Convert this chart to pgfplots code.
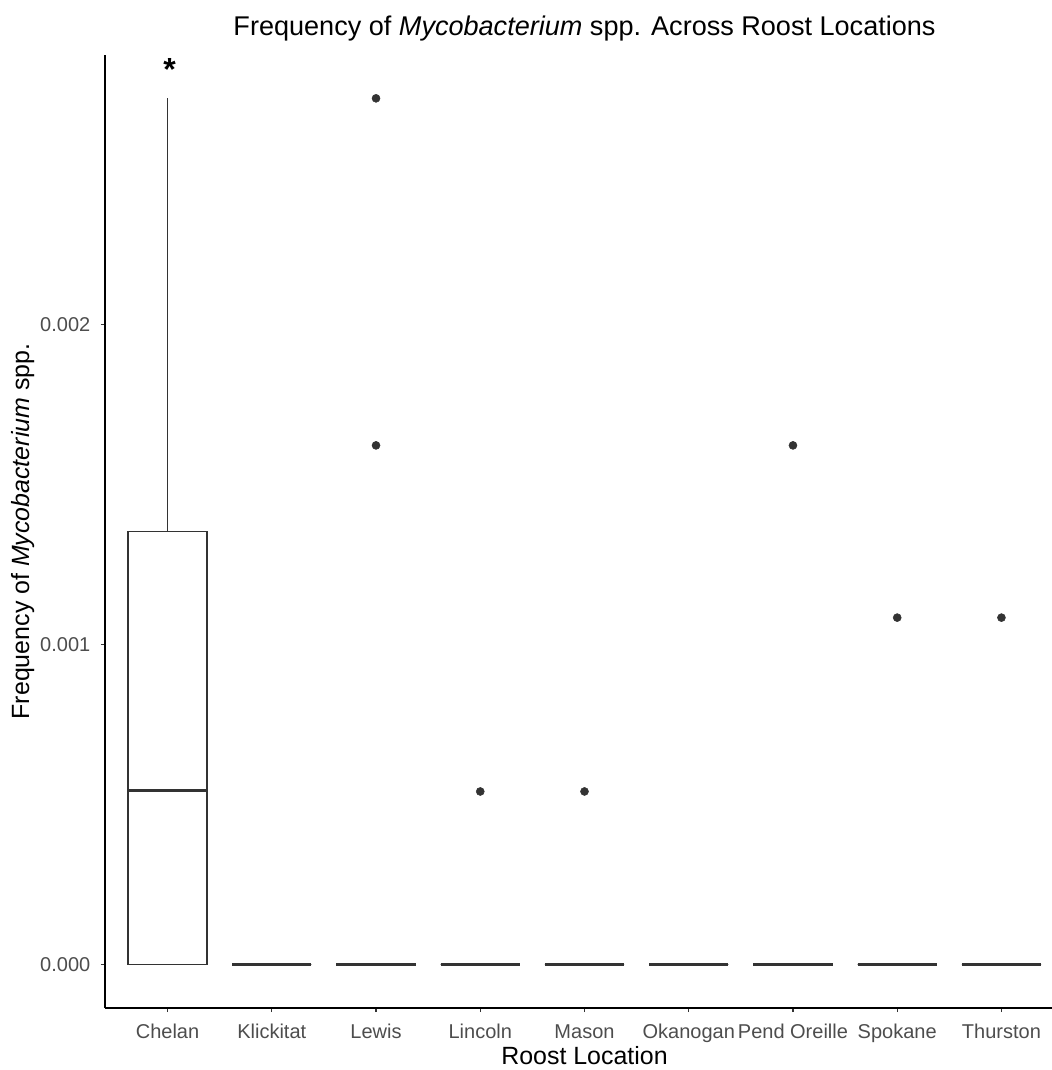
\documentclass[border=0pt]{standalone}
\usepackage{fontspec}
\setmainfont{Liberation Sans}
\usepackage{pgfplots}
\pgfplotsset{compat=1.18}
\usepgfplotslibrary{statistics}
\definecolor{gg20}{HTML}{333333}
\definecolor{gg30}{HTML}{4D4D4D}
\begin{document}
\begin{tikzpicture}
% y values are given in units of 0.001
\begin{axis}[
    scale only axis,
    width=719.25pt, height=714.75pt,
    xmin=0.4, xmax=9.6,
    ymin=-0.1353, ymax=2.8414,
    axis x line*=bottom, axis y line*=left,
    axis line style={black, line width=0.8pt, -},
    xtick={1,...,9},
    xticklabels={Chelan,Klickitat,Lewis,Lincoln,Mason,Okanogan,Pend Oreille,Spokane,Thurston},
    ytick={0,1,2},
    yticklabels={0.000,0.001,0.002},
    tick align=outside, major tick length=3pt,
    tick style={gg20, line width=0.8pt},
    ticklabel style={font=\fontsize{15}{17}\selectfont, text=gg30},
    xticklabel style={anchor=base, yshift=-19.5pt},
    yticklabel style={xshift=-4.5pt},
    xlabel={Roost Location},
    ylabel={Frequency of \textit{Mycobacterium} spp.},
    label style={font=\fontsize{18.7}{20}\selectfont},
    xlabel style={at={(axis description cs:0.5,-0.0598)}, anchor=base},
    ylabel style={at={(axis description cs:-0.0792,0.5)}, anchor=base},
    title={Frequency of \textit{Mycobacterium} spp. Across Roost Locations},
    title style={font=\fontsize{20.3}{22}\selectfont, at={(axis description cs:0.5,1.0116)}, anchor=base},
    clip=false,
    boxplot/draw direction=y,
    boxplot/box extend=0.76,
    boxplot/whisker extend=0,
    boxplot/every box/.style={line width=1pt},
    boxplot/every whisker/.style={line width=1pt},
    boxplot/every median/.style={line width=2.25pt},
]
\addplot[gg20, boxplot prepared={draw position=1,
    lower whisker=0, lower quartile=0, median=0.544,
    upper quartile=1.353, upper whisker=2.706}] coordinates {};
\addplot[gg20, boxplot prepared={draw position=2,
    lower whisker=0, lower quartile=0, median=0, upper quartile=0, upper whisker=0}] coordinates {};
\addplot[gg20, boxplot prepared={draw position=3,
    lower whisker=0, lower quartile=0, median=0, upper quartile=0, upper whisker=0}] coordinates {};
\addplot[gg20, boxplot prepared={draw position=4,
    lower whisker=0, lower quartile=0, median=0, upper quartile=0, upper whisker=0}] coordinates {};
\addplot[gg20, boxplot prepared={draw position=5,
    lower whisker=0, lower quartile=0, median=0, upper quartile=0, upper whisker=0}] coordinates {};
\addplot[gg20, boxplot prepared={draw position=6,
    lower whisker=0, lower quartile=0, median=0, upper quartile=0, upper whisker=0}] coordinates {};
\addplot[gg20, boxplot prepared={draw position=7,
    lower whisker=0, lower quartile=0, median=0, upper quartile=0, upper whisker=0}] coordinates {};
\addplot[gg20, boxplot prepared={draw position=8,
    lower whisker=0, lower quartile=0, median=0, upper quartile=0, upper whisker=0}] coordinates {};
\addplot[gg20, boxplot prepared={draw position=9,
    lower whisker=0, lower quartile=0, median=0, upper quartile=0, upper whisker=0}] coordinates {};
% outliers
\addplot[only marks, mark=*, mark size=3pt, gg20] coordinates {
    (3,2.706) (3,1.622) (4,0.541) (5,0.541)
    (7,1.622) (8,1.084) (9,1.084)
};
\node[font=\bfseries\fontsize{24}{24}\selectfont, inner sep=0pt] at (axis cs:1.02,2.795) {*};
\end{axis}
\pgfresetboundingbox
\path (current axis.south west) ++(-78.75pt,-46.5pt) rectangle ++(788.25pt,802.5pt);
\end{tikzpicture}
\end{document}
